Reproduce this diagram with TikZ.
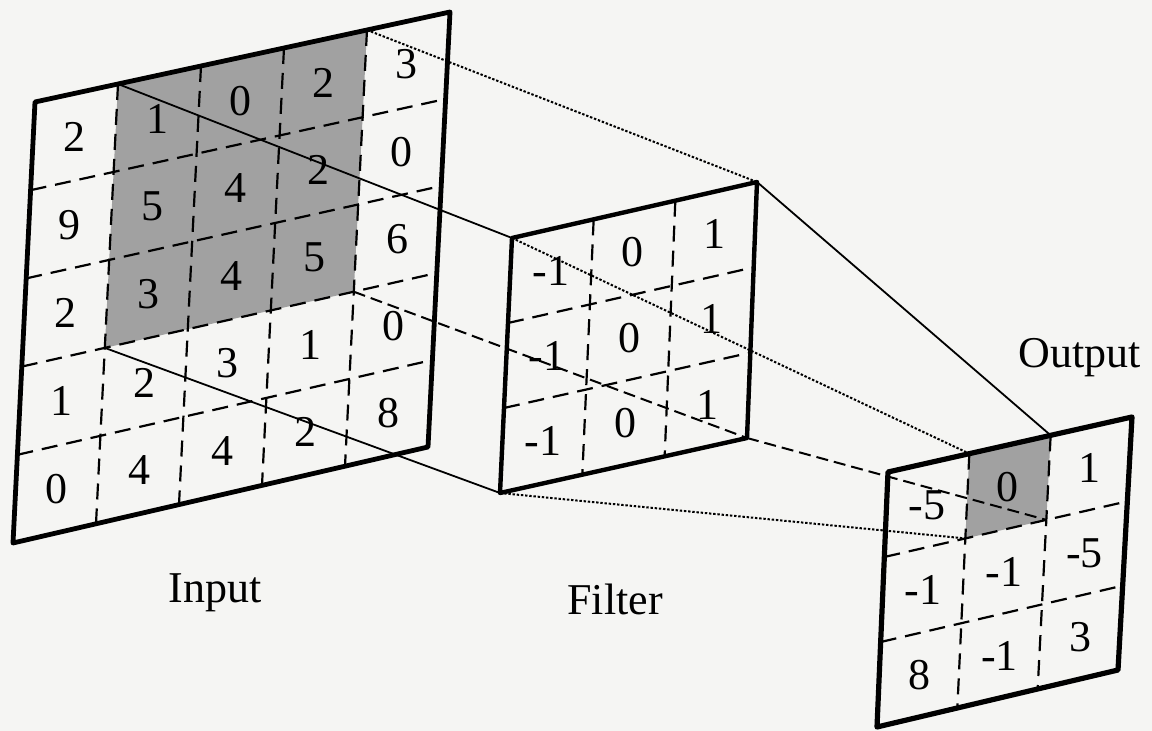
\documentclass[tikz,border=0pt]{standalone}
\usepackage{fontspec}
\setmainfont{Liberation Serif}
\usetikzlibrary{calc}
\definecolor{paper}{RGB}{245,245,243}
\begin{document}
\begin{tikzpicture}[x=0.5pt,y=-0.5pt,
  panel/.style={line width=2.4pt, line join=round},
  gridline/.style={line width=1.1pt, dash pattern=on 8pt off 4.5pt},
  shadecell/.style={fill=black!37},
  num/.style={font=\fontsize{22}{26}\selectfont, inner sep=0pt},
  lab/.style={font=\fontsize{22}{26}\selectfont, inner sep=0pt, anchor=base},
  conn/.style={line width=0.9pt},
  conndot/.style={line width=1pt, dash pattern=on 1.2pt off 0.9pt},
  conndash/.style={line width=1pt, dash pattern=on 6pt off 3pt}]
\fill[paper] (0,0) rectangle (1152,731);
\useasboundingbox (0,0) rectangle (1152,731);

% panel corners
\coordinate (iTL) at (35,102);
\coordinate (iTR) at (450,12);
\coordinate (iBL) at (13,543);
\coordinate (iBR) at (428,447);
\coordinate (fTL) at (512,238);
\coordinate (fTR) at (757,182);
\coordinate (fBL) at (500,493);
\coordinate (fBR) at (747,438);
\coordinate (oTL) at (888,472);
\coordinate (oTR) at (1132,417);
\coordinate (oBL) at (877,727);
\coordinate (oBR) at (1118,670);

% input patch corners
\coordinate (pTL) at ($(iTL)!0.2!(iTR)$);
\coordinate (pTR) at ($(iTL)!0.8!(iTR)$);
\coordinate (pbl1) at ($(iBL)!0.2!(iBR)$);
\coordinate (pbr1) at ($(iBL)!0.8!(iBR)$);
\coordinate (pBL) at ($(pTL)!0.6!(pbl1)$);
\coordinate (pBR) at ($(pTR)!0.6!(pbr1)$);
% output cell corners
\coordinate (cTL) at ($(oTL)!1/3!(oTR)$);
\coordinate (cTR) at ($(oTL)!2/3!(oTR)$);
\coordinate (cbl1) at ($(oBL)!1/3!(oBR)$);
\coordinate (cbr1) at ($(oBL)!2/3!(oBR)$);
\coordinate (cBL) at ($(cTL)!1/3!(cbl1)$);
\coordinate (cBR) at ($(cTR)!1/3!(cbr1)$);

% shading
\fill[shadecell] (pTL) -- (pTR) -- (pBR) -- (pBL) -- cycle;
\fill[shadecell] (cTL) -- (cTR) -- (cBR) -- (cBL) -- cycle;

% dashed grids
\foreach \k in {1,2,3,4}{
  \draw[gridline] ($(iTL)!\k/5!(iBL)$) -- ($(iTR)!\k/5!(iBR)$);
  \draw[gridline] ($(iTL)!\k/5!(iTR)$) -- ($(iBL)!\k/5!(iBR)$);
}
\foreach \k in {1,2}{
  \draw[gridline] ($(fTL)!\k/3!(fBL)$) -- ($(fTR)!\k/3!(fBR)$);
  \draw[gridline] ($(fTL)!\k/3!(fTR)$) -- ($(fBL)!\k/3!(fBR)$);
  \draw[gridline] ($(oTL)!\k/3!(oBL)$) -- ($(oTR)!\k/3!(oBR)$);
  \draw[gridline] ($(oTL)!\k/3!(oTR)$) -- ($(oBL)!\k/3!(oBR)$);
}

% numbers
\foreach \val [count=\n from 0] in {2,1,0,2,3,9,5,4,2,0,2,3,4,5,6,1,2,3,1,0,0,4,4,2,8}{
  \pgfmathtruncatemacro\rowi{int(\n/5)}
  \pgfmathtruncatemacro\coli{mod(\n,5)}
  \pgfmathsetmacro\uu{(\coli+0.5)/5}
  \pgfmathsetmacro\vv{(\rowi+0.5)/5}
  \coordinate (tt) at ($(iTL)!\uu!(iTR)$);
  \coordinate (bb) at ($(iBL)!\uu!(iBR)$);
  \node[num] (in\rowi\coli) at ($(tt)!\vv!(bb)$) {\val};
}
\foreach \val [count=\n from 0] in {-1,0,1,-1,0,1,-1,0,1}{
  \pgfmathtruncatemacro\rowi{int(\n/3)}
  \pgfmathtruncatemacro\coli{mod(\n,3)}
  \pgfmathsetmacro\uu{(\coli+0.5)/3}
  \pgfmathsetmacro\vv{(\rowi+0.5)/3}
  \coordinate (tt) at ($(fTL)!\uu!(fTR)$);
  \coordinate (bb) at ($(fBL)!\uu!(fBR)$);
  \node[num] (fi\rowi\coli) at ($(tt)!\vv!(bb)$) {\val};
}
\foreach \val [count=\n from 0] in {-5,0,1,-1,-1,-5,8,-1,3}{
  \pgfmathtruncatemacro\rowi{int(\n/3)}
  \pgfmathtruncatemacro\coli{mod(\n,3)}
  \pgfmathsetmacro\uu{(\coli+0.5)/3}
  \pgfmathsetmacro\vv{(\rowi+0.5)/3}
  \coordinate (tt) at ($(oTL)!\uu!(oTR)$);
  \coordinate (bb) at ($(oBL)!\uu!(oBR)$);
  \node[num] (ou\rowi\coli) at ($(tt)!\vv!(bb)$) {\val};
}

% connectors
\draw[conn] (pTL) -- (fTL);
\draw[conndot] (fTL) -- (cTL);
\draw[conndot] (pTR) -- (fTR);
\draw[conn] (fTR) -- (cTR);
\draw[conn] (pBL) -- (fBL);
\draw[conndot] (fBL) -- (cBL);
\draw[conndash] (pBR) -- (fBR);
\draw[conndash] (fBR) -- (cBR);

% panel borders
\draw[panel] (iTL) -- (iTR) -- (iBR) -- (iBL) -- cycle;
\draw[panel, line width=2.2pt] (fTL) -- (fTR) -- (fBR) -- (fBL) -- cycle;
\draw[panel, line width=2.6pt] (oTL) -- (oTR) -- (oBR) -- (oBL) -- cycle;

% labels
\node[lab] (inputlabel) at (215,603) {Input};
\node[lab] (filterlabel) at (615,615) {Filter};
\node[lab] (outputlabel) at (1080,368) {Output};
\end{tikzpicture}
\end{document}
